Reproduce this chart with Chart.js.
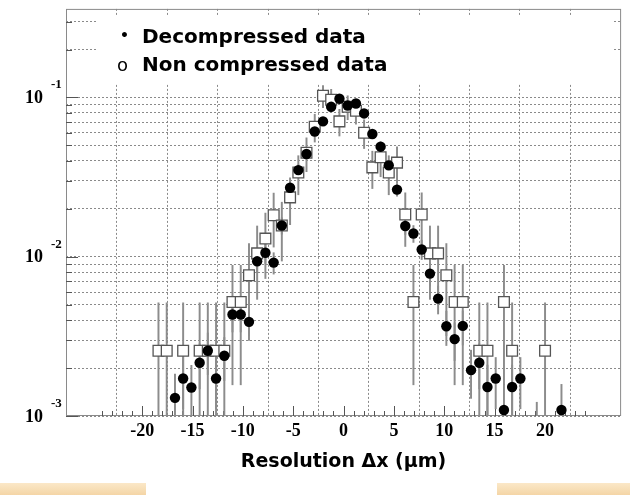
<!DOCTYPE html>
<html>
<head>
<meta charset="utf-8">
<script src="https://cdn.jsdelivr.net/npm/chart.js@4.4.1/dist/chart.umd.min.js"></script>
<style>
    html, body { margin: 0; padding: 0; background: #fff; }
    #wrap  { position: relative; width: 630px; height: 495px; overflow: hidden; background: #fff; }
    .strip { position: absolute; top: 483px; height: 12px; background: linear-gradient(#fbe8c8, #f4d5a6); }
    #stripL { left: 0; width: 146px; }
    #stripR { left: 497px; width: 133px; }
    canvas { position: absolute; left: 0; top: 0; }
</style>
</head>
<body>
<div id="wrap">
    <div class="strip" id="stripL"></div>
    <div class="strip" id="stripR"></div>
    <canvas id="chart" width="630" height="495"></canvas>
</div>
<script>
// ── Axes ──────────────────────────────────────────────────────────────────
const X_MIN = -24.5;
const X_MAX = 24.5;
const Y_MIN = 0.001;
const Y_MAX = 0.36;
const xTicks        = [-20, -15, -10, -5, 0, 5, 10, 15, 20];
const yDecades      = [0.001, 0.01, 0.1];
const yDecadeLabels = ['-3', '-2', '-1'];

// ── Decompressed data (filled circles) ─────────────────────────────────────
const decompX  = [-16.74, -15.93, -15.11, -14.29, -13.48, -12.66, -11.84, -11.03, -10.21, -9.39,
                  -8.58, -7.76, -6.94, -6.13, -5.31, -4.49, -3.68, -2.86, -2.04, -1.23,
                  -0.41, 0.41, 1.23, 2.04, 2.86, 3.68, 4.49, 5.31, 6.13, 6.94,
                  7.76, 8.58, 9.39, 10.21, 11.03, 11.84, 12.66, 13.48, 14.29, 15.11,
                  15.93, 16.74, 17.56, 19.19, 21.64];
const decompY  = [0.00130, 0.00172, 0.00151, 0.00216, 0.00257, 0.00172, 0.00239, 0.00434, 0.00434, 0.00390,
                  0.00936, 0.0106, 0.00919, 0.0157, 0.0271, 0.0350, 0.0442, 0.0612, 0.0708, 0.0874,
                  0.0982, 0.0891, 0.0917, 0.0794, 0.0590, 0.0491, 0.0375, 0.0264, 0.0156, 0.0140,
                  0.0111, 0.00784, 0.00546, 0.00366, 0.00304, 0.00368, 0.00194, 0.00216, 0.00152, 0.00172,
                  0.00109, 0.00152, 0.00172, 0.00080, 0.00109];
const decompLo = [0.00077, 0.00111, 0.00094, 0.00148, 0.00182, 0.00111, 0.00167, 0.00337, 0.00337, 0.00298,
                  0.00794, 0.00908, 0.00778, 0.01385, 0.0247, 0.0322, 0.0411, 0.0576, 0.0669, 0.0830,
                  0.0936, 0.0847, 0.0872, 0.0753, 0.0554, 0.0458, 0.0347, 0.0240, 0.0138, 0.0123,
                  0.0096, 0.00654, 0.00437, 0.00277, 0.00223, 0.00279, 0.00129, 0.00148, 0.00095, 0.00111,
                  0.00060, 0.00095, 0.00111, 0.00038, 0.00060];
const decompHi = [0.00183, 0.00233, 0.00208, 0.00284, 0.00332, 0.00233, 0.00311, 0.00531, 0.00531, 0.00482,
                  0.01078, 0.01212, 0.0106, 0.01755, 0.0295, 0.0378, 0.0473, 0.0649, 0.0747, 0.0918,
                  0.1028, 0.0935, 0.0962, 0.0836, 0.0626, 0.0524, 0.0404, 0.0288, 0.0174, 0.0157,
                  0.0127, 0.00914, 0.00655, 0.00455, 0.00385, 0.00457, 0.00259, 0.00284, 0.00209, 0.00233,
                  0.00158, 0.00209, 0.00233, 0.00122, 0.00158];

// ── Non compressed data (open squares) ─────────────────────────────────────
const nonCompX  = [-18.38, -17.56, -15.93, -14.29, -13.48, -12.66, -11.84, -11.03, -10.21, -9.39,
                   -8.58, -7.76, -6.94, -6.13, -5.31, -4.49, -3.68, -2.86, -2.04, -1.23,
                   -0.41, 0.41, 1.23, 2.04, 2.86, 3.68, 4.49, 5.31, 6.13, 6.94,
                   7.76, 8.58, 9.39, 10.21, 11.03, 11.84, 13.48, 14.29, 15.93, 16.74,
                   20.01];
const nonCompY  = [0.00257, 0.00257, 0.00257, 0.00257, 0.00257, 0.00257, 0.00257, 0.0052, 0.0052, 0.00765,
                   0.0105, 0.0130, 0.0182, 0.0157, 0.0236, 0.0338, 0.0450, 0.0655, 0.1025, 0.0967,
                   0.0708, 0.0875, 0.0825, 0.0601, 0.0364, 0.0422, 0.0338, 0.0390, 0.0184, 0.0052,
                   0.0184, 0.0105, 0.0105, 0.00765, 0.0052, 0.0052, 0.00257, 0.00257, 0.0052, 0.00257,
                   0.00257];
const nonCompLo = [0.00001, 0.00001, 0.00001, 0.00001, 0.00001, 0.00001, 0.00001, 0.00157, 0.00157, 0.0032,
                   0.0054, 0.0073, 0.0115, 0.0094, 0.0159, 0.0245, 0.0342, 0.0525, 0.0862, 0.0809,
                   0.0573, 0.0725, 0.0680, 0.0478, 0.0268, 0.0318, 0.0245, 0.0290, 0.0116, 0.00157,
                   0.0116, 0.0054, 0.0054, 0.0032, 0.00157, 0.00157, 0.00001, 0.00001, 0.00157, 0.00001,
                   0.00001];
const nonCompHi = [0.00514, 0.00514, 0.00514, 0.00514, 0.00514, 0.00514, 0.00514, 0.00883, 0.00883, 0.0121,
                   0.0156, 0.0188, 0.0251, 0.0220, 0.0313, 0.0431, 0.0558, 0.0785, 0.1188, 0.1125,
                   0.0843, 0.1025, 0.0970, 0.0724, 0.0460, 0.0526, 0.0431, 0.0490, 0.0252, 0.00883,
                   0.0252, 0.0156, 0.0156, 0.0121, 0.00883, 0.00883, 0.00514, 0.00514, 0.00883, 0.00514,
                   0.00514];

// Grid lines of the log axis: 1..9 in each decade
const yGridValues = yDecades
    .flatMap(d => [1, 2, 3, 4, 5, 6, 7, 8, 9].map(k => d * k))
    .filter(v => v <= Y_MAX);

const points  = (xs, ys)     => xs.map((x, i) => ({ x, y: ys[i] }));
const errBars = (xs, lo, hi) => xs.map((x, i) => ({ x, y: [lo[i], hi[i]] }));

// ── Decoration: legend box, frame, inner ticks, labels ────────────────────
const decor = {
    id: 'decor',
    beforeDatasetsDraw(chart) {
        const { ctx, chartArea: a, scales: { x, y } } = chart;
        ctx.save();

        // white box of the legend over the upper grid
        ctx.fillStyle = '#fff';
        ctx.fillRect(98, 15, 514, 68);

        // frame
        ctx.strokeStyle = '#8a8a8a';
        ctx.lineWidth = 1;
        ctx.strokeRect(a.left + 0.5, a.top + 0.5, a.right - a.left - 1, a.bottom - a.top - 1);

        // ticks pointing into the plot
        ctx.strokeStyle = '#555';
        ctx.beginPath();
        for (let v = -24; v <= 24; v++) {
            const px = Math.round(x.getPixelForValue(v)) + 0.5;
            const len = v % 5 === 0 ? 10 : 5;
            ctx.moveTo(px, a.bottom);
            ctx.lineTo(px, a.bottom - len);
        }
        yGridValues.forEach(v => {
            const py = Math.round(y.getPixelForValue(v)) + 0.5;
            const len = yDecades.includes(v) ? 12 : 6;
            ctx.moveTo(a.left, py);
            ctx.lineTo(a.left + len, py);
        });
        ctx.stroke();
        ctx.restore();
    },
    afterDraw(chart) {
        const { ctx, chartArea: a, scales: { y } } = chart;
        ctx.save();
        ctx.fillStyle = '#000';

        // y labels: 10 with exponent
        yDecades.forEach((d, i) => {
            const py = y.getPixelForValue(d);
            ctx.font = 'bold 18px "Liberation Serif"';
            ctx.textAlign = 'center';
            ctx.textBaseline = 'middle';
            ctx.fillText('10', 34, py + 1);
            ctx.font = 'bold 13px "Liberation Serif"';
            ctx.textAlign = 'left';
            ctx.textBaseline = 'alphabetic';
            ctx.fillText(yDecadeLabels[i], 51, py - 9);
        });

        // legend
        ctx.font = 'bold 14px "DejaVu Sans"';
        ctx.textAlign = 'left';
        ctx.textBaseline = 'alphabetic';
        ctx.fillText('\u2022', 120, 40);
        ctx.font = 'bold 20px "DejaVu Sans"';
        ctx.fillText('Decompressed data', 142, 43);
        ctx.font = '18px "DejaVu Sans"';
        ctx.fillText('o', 117, 71);
        ctx.font = 'bold 20px "DejaVu Sans"';
        ctx.fillText('Non compressed data', 142, 71);

        // x title
        ctx.font = 'bold 19px "DejaVu Sans"';
        ctx.textAlign = 'center';
        ctx.fillText('Resolution \u0394x (\u03bcm)', (a.left + a.right) / 2, 467);
        ctx.restore();
    }
};

new Chart(document.getElementById('chart'), {
    type: 'scatter',
    data: {
        datasets: [
            {
                type: 'bar',
                data: errBars(nonCompX, nonCompLo, nonCompHi),
                backgroundColor: '#8c8c8c',
                barThickness: 1.3,
                grouped: false,
                order: 4
            },
            {
                type: 'bar',
                data: errBars(decompX, decompLo, decompHi),
                backgroundColor: '#8c8c8c',
                barThickness: 1.3,
                grouped: false,
                order: 3
            },
            {
                type: 'scatter',
                data: points(nonCompX, nonCompY),
                pointStyle: 'rect',
                pointRadius: 7.6,
                backgroundColor: '#fff',
                borderColor: '#555',
                borderWidth: 1.3,
                order: 2
            },
            {
                type: 'scatter',
                data: points(decompX, decompY),
                pointStyle: 'circle',
                pointRadius: 5.2,
                backgroundColor: '#000',
                borderWidth: 0,
                order: 1
            }
        ]
    },
    options: {
        responsive: false,
        animation: false,
        events: [],
        layout: { padding: { top: 8, right: 8, left: 0, bottom: 0 } },
        plugins: { legend: { display: false }, tooltip: { enabled: false } },
        scales: {
            x: {
                type: 'linear',
                min: X_MIN,
                max: X_MAX,
                afterBuildTicks: s => { s.ticks = xTicks.map(v => ({ value: v })); },
                afterFit: s => { s.height = 79; },
                grid: { color: '#8a8a8a', lineWidth: 1, drawTicks: false },
                border: { display: false, dash: [2, 2] },
                ticks: {
                    padding: 5,
                    color: '#000',
                    font: { family: '"Liberation Serif"', size: 18, weight: 'bold' },
                    maxRotation: 0
                }
            },
            y: {
                type: 'logarithmic',
                min: Y_MIN,
                max: Y_MAX,
                afterBuildTicks: s => { s.ticks = yGridValues.map(v => ({ value: v })); },
                afterFit: s => { s.width = 66; },
                grid: { color: '#8a8a8a', lineWidth: 1, drawTicks: false },
                border: { display: false, dash: [2, 2] },
                ticks: { display: false }
            }
        }
    },
    plugins: [decor]
});
</script>
</body>
</html>
